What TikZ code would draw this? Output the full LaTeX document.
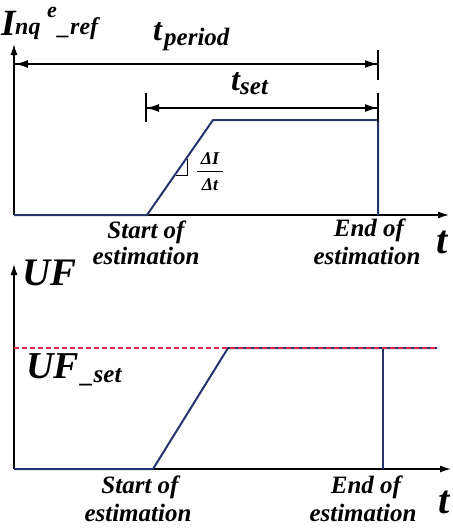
\documentclass[tikz,border=0pt]{standalone}
\usepackage{fontspec}
\setmainfont{Liberation Serif}
\usetikzlibrary{arrows.meta}
\definecolor{curveblue}{RGB}{38,52,110}
\definecolor{setred}{RGB}{232,36,70}
\newcommand{\fs}[1]{\fontsize{#1}{#1}\selectfont}
\tikzset{
  axis/.style={line width=1.4pt,-{Latex[length=11pt,width=7pt]}},
  dimarrow/.style={line width=1.4pt,-{Latex[length=13pt,width=8pt]}},
  bar/.style={line width=1.4pt},
  curve/.style={line width=2pt,curveblue,line join=round},
  lbl/.style={inner sep=0pt,font=\bfseries\itshape},
}
\begin{document}
\begin{tikzpicture}[x=1pt,y=-1pt]
\useasboundingbox (0,0) rectangle (453,531);
% ---------- top plot ----------
\coordinate (tO) at (14,215);
\coordinate (tY) at (14,44);
\coordinate (tX) at (449,215);
\coordinate (tA) at (147,215);
\coordinate (tB) at (213,120);
\coordinate (tC) at (378,120);
\coordinate (tD) at (378,215);
\draw[axis] (tO) -- (tY);
\draw[axis] (tO) -- (tX);
\draw[curve] (tO) -- (tA) -- (tB) -- (tC) -- (tD);
% t_period
\coordinate (pL) at (15,64);
\coordinate (pR) at (378,64);
\coordinate (pRt) at (378,50);
\coordinate (pRb) at (378,80);
\draw[dimarrow] (pR) -- (pL);
\draw[dimarrow] (pL) -- (pR);
\draw[bar] (pRt) -- (pRb);
% t_set
\coordinate (sL) at (146,108);
\coordinate (sR) at (378,108);
\coordinate (sLt) at (146,93);
\coordinate (sLb) at (146,122);
\coordinate (sRt) at (378,93);
\coordinate (sRb) at (378,122);
\draw[dimarrow] (sR) -- (sL);
\draw[dimarrow] (sL) -- (sR);
\draw[bar] (sLt) -- (sLb);
\draw[bar] (sRt) -- (sRb);
% right-angle mark
\coordinate (rA) at (187,159);
\coordinate (rB) at (187,175);
\coordinate (rC) at (176,175);
\draw[line width=0.8pt] (rA) -- (rB) -- (rC);
% labels
\node[lbl,anchor=base west] (Ilab) at (1,35) {\fs{37}I};
\node[lbl,anchor=base west] (nqlab) at (15,34) {\fs{24}nq};
\node[lbl,anchor=base west] (elab) at (47,17) {\fs{22}e};
\node[lbl,anchor=base west] (reflab) at (58,34) {\fs{24}\_ref};
\node[lbl,anchor=base west] (tplab) at (153,40) {\fs{32}t};
\node[lbl,anchor=base west] (tpsub) at (164,45) {\fs{25}period};
\node[lbl,anchor=base west] (tslab) at (231,90) {\fs{32}t};
\node[lbl,anchor=base west] (tssub) at (240,94) {\fs{25}set};
\node[lbl,anchor=base] (dI) at (210,164) {\fs{18}ΔI};
\node[lbl,anchor=base] (dt) at (210,190) {\fs{18}Δt};
\coordinate (fL) at (197,171);
\coordinate (fR) at (223,171);
\draw[line width=0.8pt] (fL) -- (fR);
\node[lbl,anchor=base] (start1) at (146,238) {\fs{25}Start of};
\node[lbl,anchor=base] (start1b) at (146,264) {\fs{25}estimation};
\node[lbl,anchor=base] (end1) at (369,236) {\fs{25}End of};
\node[lbl,anchor=base] (end1b) at (367,264) {\fs{25}estimation};
\node[lbl,anchor=base] (tt1) at (442,253) {\fs{40}t};
% ---------- bottom plot ----------
\coordinate (bO) at (14,469);
\coordinate (bY) at (14,264);
\coordinate (bX) at (451,469);
\coordinate (bA) at (153,469);
\coordinate (bB) at (228,348);
\coordinate (bC) at (437,348);
\coordinate (bV) at (383,348);
\coordinate (bVb) at (383,469);
\coordinate (rL) at (14,348);
\coordinate (rR) at (437,348);
\draw[axis] (bO) -- (bY);
\draw[axis] (bO) -- (bX);
\draw[curve] (bO) -- (bA) -- (bB) -- (bC);
\draw[curve] (bV) -- (bVb);
\draw[line width=2.2pt,setred,dash pattern=on 5pt off 3pt] (rL) -- (rR);
\node[lbl,anchor=base west] (uf) at (22,285) {\fs{39}UF};
\node[lbl,anchor=base west] (ufset) at (26,378) {\fs{38}UF};
\node[lbl,anchor=base west] (ufsub) at (81,382) {\fs{25}\_set};
\node[lbl,anchor=base] (start2) at (140,493) {\fs{25}Start of};
\node[lbl,anchor=base] (start2b) at (138,521) {\fs{25}estimation};
\node[lbl,anchor=base] (end2) at (366,493) {\fs{25}End of};
\node[lbl,anchor=base] (end2b) at (363,521) {\fs{25}estimation};
\node[lbl,anchor=base] (tt2) at (444,513) {\fs{40}t};
\end{tikzpicture}
\end{document}
